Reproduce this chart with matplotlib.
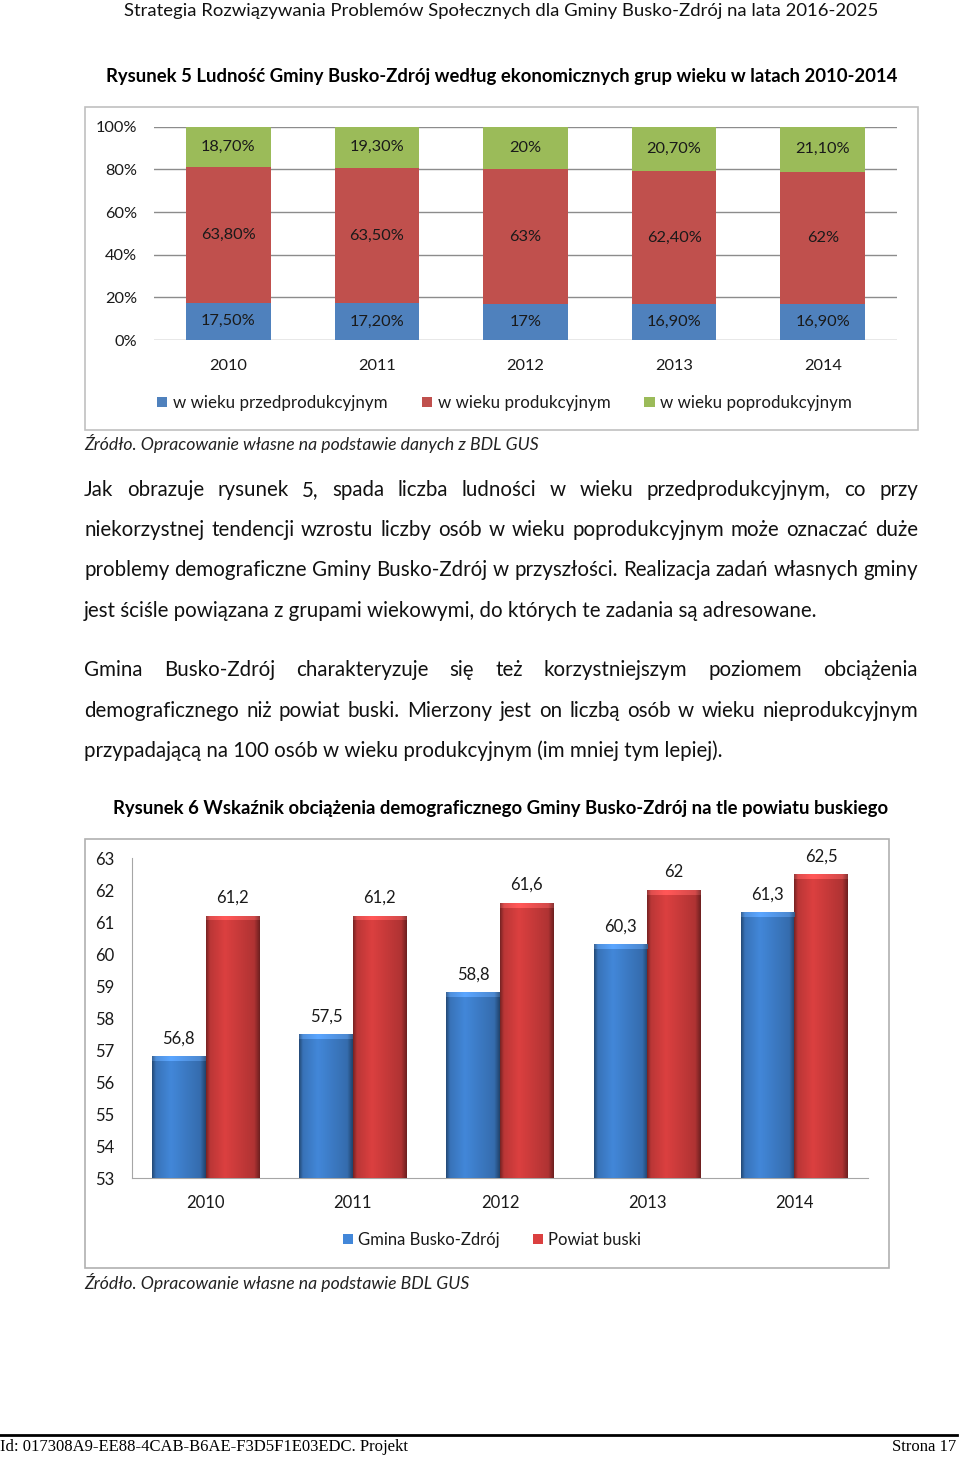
import numpy as np
import matplotlib.pyplot as plt

plt.rcParams['font.family'] = ['Lato', 'DejaVu Sans']

# Rysunek 5 - economic age groups (percent)
years = ['2010', '2011', '2012', '2013', '2014']
przedprod = [17.5, 17.2, 17.0, 16.9, 16.9]
prod = [63.8, 63.5, 63.0, 62.4, 62.0]
poprod = [18.7, 19.3, 20.0, 20.7, 21.1]
series1_names = ['w wieku przedprodukcyjnym', 'w wieku produkcyjnym', 'w wieku poprodukcyjnym']
pct_ticks = [0, 20, 40, 60, 80, 100]

# Rysunek 6 - dependency ratio
gmina = [56.8, 57.5, 58.8, 60.3, 61.3]
powiat = [61.2, 61.2, 61.6, 62.0, 62.5]
series2_names = ['Gmina Busko-Zdrój', 'Powiat buski']
ratio_ticks = list(range(53, 64))

header = 'Strategia Rozwiązywania Problemów Społecznych dla Gminy Busko-Zdrój na lata 2016-2025'
title1 = 'Rysunek 5 Ludność Gminy Busko-Zdrój według ekonomicznych grup wieku w latach 2010-2014'
title2 = 'Rysunek 6 Wskaźnik obciążenia demograficznego Gminy Busko-Zdrój na tle powiatu buskiego'
source1 = 'Źródło. Opracowanie własne na podstawie danych z BDL GUS'
source2 = 'Źródło. Opracowanie własne na podstawie BDL GUS'
body = [
    ('Jak obrazuje rysunek 5, spada liczba ludności w wieku przedprodukcyjnym, co przy', True),
    ('niekorzystnej tendencji wzrostu liczby osób w wieku poprodukcyjnym może oznaczać duże', True),
    ('problemy demograficzne Gminy Busko-Zdrój w przyszłości. Realizacja zadań własnych gminy', True),
    ('jest ściśle powiązana z grupami wiekowymi, do których te zadania są adresowane.', False),
    ('Gmina Busko-Zdrój charakteryzuje się też korzystniejszym poziomem obciążenia', True),
    ('demograficznego niż powiat buski. Mierzony jest on liczbą osób w wieku nieprodukcyjnym', True),
    ('przypadającą na 100 osób w wieku produkcyjnym (im mniej tym lepiej).', False),
]
body_y = [490, 530, 570, 611, 670, 711, 751]
footer_id = 'Id: 017308A9-EE88-4CAB-B6AE-F3D5F1E03EDC. Projekt'
footer_page = 'Strona 17'


def pct_label(v):
    if float(v).is_integer():
        return '%d%%' % v
    return ('%.2f%%' % v).replace('.', ',')


def num_label(v):
    return ('%g' % v).replace('.', ',')


fig = plt.figure(figsize=(9.6, 14.58), dpi=100)

# page layer in pixel units
page = fig.add_axes([0, 0, 1, 1], zorder=0)
page.set_xlim(0, 960)
page.set_ylim(1458, 0)
page.axis('off')

page.text(501, 11, header, ha='center', va='center', fontsize=13.3, color='#111111')
page.text(502, 76, title1, ha='center', va='center', fontsize=13.3, fontweight='bold')
page.text(501, 808, title2, ha='center', va='center', fontsize=13.3, fontweight='bold')
page.text(84, 443, source1, ha='left', va='center', fontsize=12.7, style='italic', color='#222222')
page.text(84, 1283, source2, ha='left', va='center', fontsize=12.7, style='italic', color='#222222')

# frames round the charts
page.add_patch(plt.Rectangle((85, 107), 833, 323, fill=False, ec='#C0C0C0', lw=1.2))
page.add_patch(plt.Rectangle((85, 839), 804, 429, fill=False, ec='#B0B0B0', lw=1.2))

# footer
page.plot([0, 957], [1435, 1435], color='black', lw=2)
page.text(0, 1447, footer_id, ha='left', va='center', fontsize=12,
          family='Liberation Serif')
page.text(956, 1447, footer_page, ha='right', va='center', fontsize=12,
          family='Liberation Serif')

# body paragraphs, justified by hand
renderer = fig.canvas.get_renderer()
for (line, just), y in zip(body, body_y):
    if not just:
        page.text(84, y, line, ha='left', va='center', fontsize=14.8, color='#111111')
        continue
    words = line.split(' ')
    objs = [page.text(0, y, w, ha='left', va='center', fontsize=14.8, color='#111111')
            for w in words]
    widths = [o.get_window_extent(renderer).width for o in objs]
    gap = (918 - 84 - sum(widths)) / (len(words) - 1)
    x = 84
    for o, w in zip(objs, widths):
        o.set_x(x)
        x += w + gap

# ---- Rysunek 5: stacked bars ----
ax1 = fig.add_axes([154 / 960, 1 - 340 / 1458, 743 / 960, 213.3 / 1458], zorder=2)
ax1.set_facecolor('none')
x = np.arange(len(years))
colors1 = ['#4F81BD', '#C0504D', '#9BBB59']
bottom = np.zeros(len(years))
for vals, name, c in zip([przedprod, prod, poprod], series1_names, colors1):
    bars = ax1.bar(x, vals, 0.57, bottom=bottom, color=c, label=name, zorder=3)
    ax1.bar_label(bars, labels=[pct_label(v) for v in vals], label_type='center',
                  fontsize=11.8, color='#1a1a1a')
    bottom += np.array(vals)
ax1.set_xlim(-0.5, 4.5)
ax1.set_ylim(0, 100)
ax1.set_yticks(pct_ticks)
ax1.set_yticklabels(['%d%%' % t for t in pct_ticks])
ax1.set_xticks(x)
ax1.set_xticklabels(years)
ax1.grid(axis='y', color='#8C8C8C', lw=1, zorder=0)
for s in ax1.spines.values():
    s.set_visible(False)
ax1.tick_params(axis='y', length=0, pad=12, labelsize=11.8, labelcolor='#1a1a1a')
ax1.tick_params(axis='x', length=0, pad=13.5, labelsize=11.8, labelcolor='#1a1a1a')
ax1.legend(loc='center', bbox_to_anchor=(0.472, -0.295), ncol=3, frameon=False,
           fontsize=12.2, handlelength=0.6, handleheight=0.6, handletextpad=0.35,
           columnspacing=2.0, labelcolor='#1a1a1a')

# ---- Rysunek 6: grouped bars with shading ----
ax2 = fig.add_axes([132 / 960, 1 - 1178 / 1458, 736 / 960, 320 / 1458], zorder=2)
ax2.set_facecolor('none')
w = 0.364
base_colors = [np.array([0.26, 0.53, 0.85]), np.array([0.86, 0.25, 0.25])]
stops = [0.0, 0.07, 0.35, 0.9, 1.0]
factors = [0.55, 0.85, 1.0, 0.8, 0.5]
t = np.linspace(0, 1, 80)
prof = np.interp(t, stops, factors)

for vals, name, base, off in zip([gmina, powiat], series2_names, base_colors, [-w / 2, w / 2]):
    bars = ax2.bar(x + off, np.array(vals) - 53, w, bottom=53, color=base, label=name,
                   zorder=3)
    ax2.bar_label(bars, labels=[num_label(v) for v in vals], padding=7,
                  fontsize=12, color='#1a1a1a')
    for b in bars:
        bx, by, bw, bh = b.get_x(), b.get_y(), b.get_width(), b.get_height()
        img = np.clip(base[None, None, :] * prof[None, :, None], 0, 1)
        im = ax2.imshow(img, extent=[bx, bx + bw, by, by + bh], aspect='auto',
                        interpolation='bilinear', zorder=4)
        im.set_clip_path(b)
        # lighter bevel on top
        hb = 0.15
        top = np.clip(img * 1.1 + 0.07, 0, 1)
        im2 = ax2.imshow(top, extent=[bx, bx + bw, by + bh - hb, by + bh], aspect='auto',
                         interpolation='bilinear', zorder=5)
        im2.set_clip_path(b)

ax2.set_xlim(-0.5, 4.5)
ax2.set_ylim(53, 63)
ax2.set_yticks(ratio_ticks)
ax2.set_xticks(x)
ax2.set_xticklabels(years)
for s in ['top', 'right']:
    ax2.spines[s].set_visible(False)
for s in ['left', 'bottom']:
    ax2.spines[s].set_color('#A6A6A6')
ax2.tick_params(axis='y', length=0, pad=13, labelsize=12, labelcolor='#1a1a1a')
ax2.tick_params(axis='x', length=0, pad=12.5, labelsize=12, labelcolor='#1a1a1a')
ax2.legend(loc='center', bbox_to_anchor=(0.489, -0.194), ncol=2, frameon=False,
           fontsize=12, handlelength=0.6, handleheight=0.6, handletextpad=0.3,
           columnspacing=2.0, labelcolor='#1a1a1a')

fig.savefig('out.png', dpi=100)
